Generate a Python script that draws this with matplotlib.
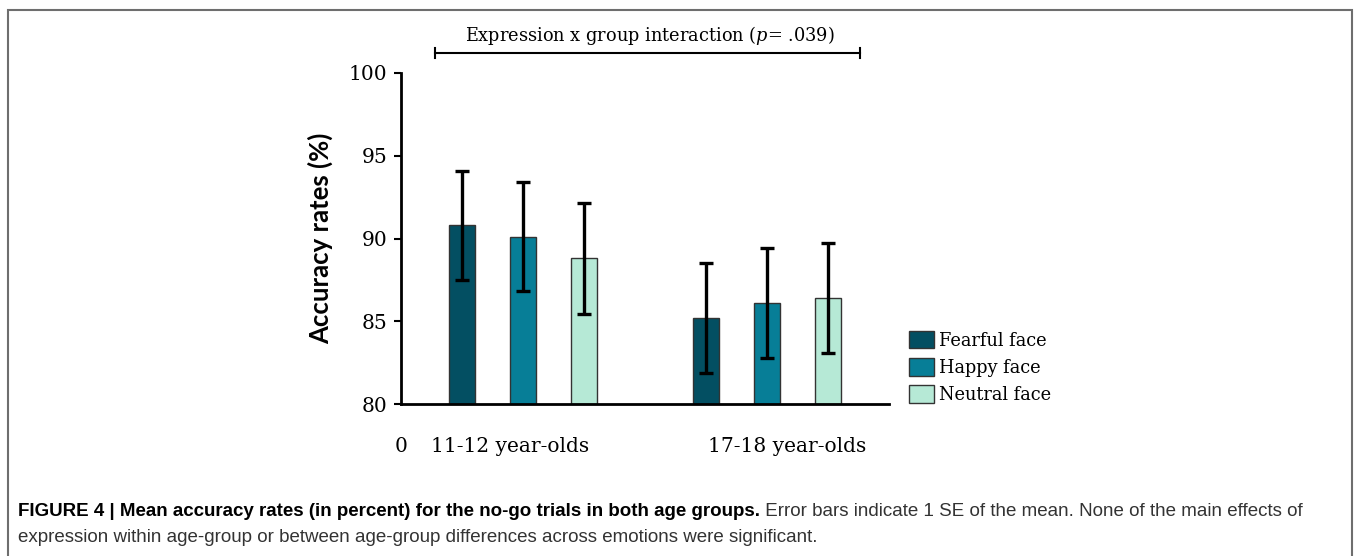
import numpy as np
import matplotlib
matplotlib.use("Agg")
import matplotlib.pyplot as plt
from matplotlib.patches import Rectangle

# data
groups = ["11-12 year-olds", "17-18 year-olds"]
faces = ["Fearful face", "Happy face", "Neutral face"]
means = {
    "Fearful face": [90.8, 85.2],
    "Happy face": [90.1, 86.1],
    "Neutral face": [88.8, 86.4],
}
se = {
    "Fearful face": [3.3, 3.3],
    "Happy face": [3.3, 3.3],
    "Neutral face": [3.35, 3.3],
}
colors = ["#034f62", "#077e97", "#b6e9d6"]
p_text = "Expression x group interaction ($p$= .039)"

plt.rcParams["mathtext.fontset"] = "dejavuserif"
serif = "DejaVu Serif"

W, H = 1355, 556
fig = plt.figure(figsize=(W / 100, H / 100), dpi=100)
ax = fig.add_axes([401 / W, (H - 404) / H, 488 / W, 331 / H])

# bar slots: 0,1,2 for first group, 4,5,6 for second
bar_w = 0.41
handles = []
for i, f in enumerate(faces):
    xs = np.array([0, 4]) + i
    b = ax.bar(xs, np.array(means[f]) - 80, bottom=80, width=bar_w,
               color=colors[i], edgecolor="#333333", linewidth=1.0,
               label=f, zorder=2)
    ax.errorbar(xs, means[f], yerr=se[f], fmt="none", ecolor="black",
                elinewidth=2.4, capsize=5, capthick=2.4, zorder=3)
    handles.append(b)

ax.set_xlim(-1, 7)
ax.set_ylim(80, 100)
ax.set_yticks([80, 85, 90, 95, 100])
for s in ["top", "right"]:
    ax.spines[s].set_visible(False)
ax.spines["left"].set_linewidth(2)
ax.spines["bottom"].set_linewidth(2)
ax.tick_params(axis="y", direction="out", length=5, width=1.5, pad=5,
               labelsize=14.5)
for t in ax.get_yticklabels():
    t.set_fontfamily(serif)

ax.set_xticks([-1, 0.79, 5.33])
ax.set_xticklabels(["0"] + groups, fontfamily=serif, fontsize=14.5)
ax.tick_params(axis="x", length=0, pad=24)

ax.set_ylabel("Accuracy rates (%)", fontfamily="Lato", fontweight="bold",
              fontsize=18.5, labelpad=11)

# interaction bracket above the bars
by = 101.2
ax.plot([-0.44, 6.53], [by, by], color="black", lw=1.5, clip_on=False)
for bx in [-0.44, 6.53]:
    ax.plot([bx, bx], [by - 0.3, by + 0.3], color="black", lw=1.5,
            clip_on=False)
ax.text(3.08, by + 0.35, p_text, ha="center", va="bottom",
        fontfamily=serif, fontsize=12.8)

leg = fig.legend(handles=handles, labels=faces, loc="upper left",
                 bbox_to_anchor=(909 / W, (H - 331) / H), frameon=False,
                 prop={"family": serif, "size": 12.8}, handlelength=1.42,
                 handleheight=1.12, labelspacing=0.48, handletextpad=0.25,
                 borderpad=0, borderaxespad=0)

# frame around the whole figure
fig.patches.append(Rectangle((8 / W, -0.05), (1352 - 8) / W, (H - 10) / H + 0.05,
                             transform=fig.transFigure, fill=False,
                             edgecolor="#6e6e6e", linewidth=1.5))

# caption
cap_bold = ("FIGURE 4 | Mean accuracy rates (in percent) for the no-go "
            "trials in both age groups.")
cap_rest = " Error bars indicate 1 SE of the mean. None of the main effects of"
cap_line2 = ("expression within age-group or between age-group differences "
             "across emotions were significant.")
cfont = dict(fontfamily="Liberation Sans", fontsize=13.5)
t1 = fig.text(18 / W, (H - 511) / H, cap_bold, fontweight="bold",
              va="center", **cfont)
fig.canvas.draw()
bb = t1.get_window_extent()
fig.text(bb.x1 / W, (H - 511) / H, cap_rest, va="center", color="#333333",
         **cfont)
fig.text(18 / W, (H - 538) / H, cap_line2, va="center", color="#333333",
         **cfont)

fig.savefig("out.png", dpi=100)
